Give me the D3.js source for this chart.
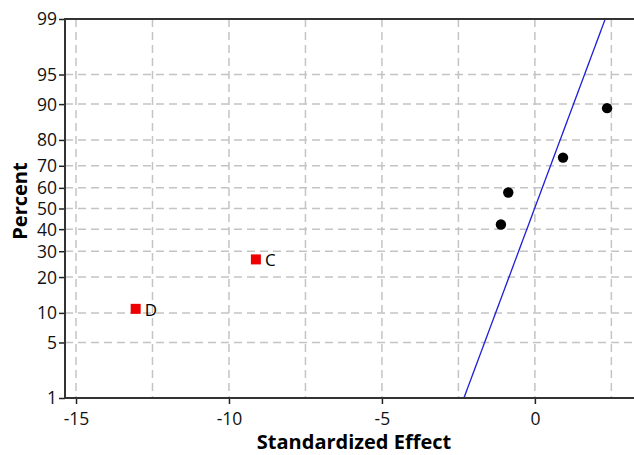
<!DOCTYPE html>
<html>
<head>
<meta charset="utf-8">
<script src="https://cdn.jsdelivr.net/npm/d3@7"></script>
<style>
  body { margin: 0; background: #fff; }
  svg text { font-family: "Open Sans", "DejaVu Sans", sans-serif; }
</style>
</head>
<body>
<div id="chart"></div>
<script>
// Effects that are significant (red squares, labelled)
const sigLabels = ["D", "C"];
const sigEffects = [-13.05, -9.12];
const sigPercents = [10.9, 26.6];

// Other effects (black dots)
const otherEffects = [-1.11, -0.87, 0.92, 2.36];
const otherPercents = [42.2, 57.8, 73.4, 89.1];

// Reference line ends
const lineEffects = [-2.32, 2.30];
const linePercents = [1, 99];

const xTicks = [-15, -10, -5, 0];
const xGrid = [-15, -12.5, -10, -7.5, -5, -2.5, 0, 2.5];
const yTicks = [1, 5, 10, 20, 30, 40, 50, 60, 70, 80, 90, 95, 99];

const width = 634, height = 455;
const plotLeft = 65, plotTop = 19, plotRight = 634, plotBottom = 398;

// inverse normal cdf (Acklam), used to place percents on the probability axis
function probit(p) {
    const a = [-39.6968302866538, 220.946098424521, -275.928510446969, 138.357751867269, -30.6647980661472, 2.50662827745924];
    const b = [-54.4760987982241, 161.585836858041, -155.698979859887, 66.8013118877197, -13.2806815528857];
    const c = [-0.00778489400243029, -0.322396458041136, -2.40075827716184, -2.54973253934373, 4.37466414146497, 2.93816398269878];
    const d = [0.00778469570904146, 0.32246712907004, 2.445134137143, 3.75440866190742];
    const pl = 0.02425;
    let q, r;
    if (p < pl) {
        q = Math.sqrt(-2 * Math.log(p));
        return (((((c[0]*q+c[1])*q+c[2])*q+c[3])*q+c[4])*q+c[5]) / ((((d[0]*q+d[1])*q+d[2])*q+d[3])*q+1);
    } else if (p <= 1 - pl) {
        q = p - 0.5; r = q * q;
        return (((((a[0]*r+a[1])*r+a[2])*r+a[3])*r+a[4])*r+a[5])*q / (((((b[0]*r+b[1])*r+b[2])*r+b[3])*r+b[4])*r+1);
    } else {
        q = Math.sqrt(-2 * Math.log(1 - p));
        return -(((((c[0]*q+c[1])*q+c[2])*q+c[3])*q+c[4])*q+c[5]) / ((((d[0]*q+d[1])*q+d[2])*q+d[3])*q+1);
    }
}

const svg = d3.select("#chart").append("svg")
    .attr("width", width)
    .attr("height", height);

const x = d3.scaleLinear().domain([-15.36, 3.24]).range([plotLeft, plotRight]);
const zScale = d3.scaleLinear().domain([probit(0.01), probit(0.99)]).range([plotBottom, plotTop]);
const y = pct => zScale(probit(pct / 100));

// grid
svg.append("g").selectAll("line.vg")
    .data(xGrid)
    .enter().append("line")
    .attr("x1", d => x(d)).attr("x2", d => x(d))
    .attr("y1", plotTop).attr("y2", plotBottom)
    .attr("stroke", "#c4c4c4").attr("stroke-width", 1.5)
    .attr("stroke-dasharray", "8,5");

svg.append("g").selectAll("line.hg")
    .data(yTicks.slice(1, -1))
    .enter().append("line")
    .attr("x1", plotLeft).attr("x2", plotRight)
    .attr("y1", d => y(d)).attr("y2", d => y(d))
    .attr("stroke", "#c4c4c4").attr("stroke-width", 1.5)
    .attr("stroke-dasharray", "8,5");

// reference line
svg.append("path")
    .datum(d3.zip(lineEffects, linePercents))
    .attr("fill", "none")
    .attr("stroke", "#1f1fd6")
    .attr("stroke-width", 1.3)
    .attr("d", d3.line().x(d => x(d[0])).y(d => y(d[1])));

// points
svg.append("g").selectAll("circle")
    .data(d3.zip(otherEffects, otherPercents))
    .enter().append("circle")
    .attr("cx", d => x(d[0])).attr("cy", d => y(d[1]))
    .attr("r", 5.2)
    .attr("fill", "#000");

const sig = svg.append("g").selectAll("g")
    .data(d3.zip(sigEffects, sigPercents, sigLabels))
    .enter().append("g")
    .attr("transform", d => `translate(${x(d[0])},${y(d[1])})`);

sig.append("rect")
    .attr("x", -5).attr("y", -5)
    .attr("width", 10).attr("height", 10)
    .attr("fill", "#ee0000");

sig.append("text")
    .attr("x", 9).attr("y", 7)
    .attr("font-size", 17)
    .text(d => d[2]);

// axes
const xAxis = d3.axisBottom(x).tickValues(xTicks).tickSize(6).tickFormat(d3.format("d"));
const gx = svg.append("g").attr("transform", `translate(0,${plotBottom})`).call(xAxis);
gx.select(".domain").remove();
gx.selectAll("line").attr("stroke", "#222").attr("stroke-width", 1.5);
gx.selectAll("text").attr("font-size", 17.5).attr("fill", "#111")
    .attr("y", 27).attr("dy", 0)
    .text(d => d < 0 ? "-" + Math.abs(d) : d);

const yAxis = d3.axisLeft(zScale).tickValues(yTicks.map(p => probit(p / 100))).tickSize(6)
    .tickFormat((d, i) => yTicks[i]);
const gy = svg.append("g").attr("transform", `translate(${plotLeft},0)`).call(yAxis);
gy.select(".domain").remove();
gy.selectAll("line").attr("stroke", "#222").attr("stroke-width", 1.5);
gy.selectAll("text").attr("font-size", 17.5).attr("fill", "#111").attr("x", -8).attr("dy", "0.34em");

// frame lines
svg.append("line").attr("x1", plotLeft).attr("x2", plotLeft).attr("y1", plotTop - 1).attr("y2", plotBottom + 1)
    .attr("stroke", "#333").attr("stroke-width", 2);
svg.append("line").attr("x1", plotLeft).attr("x2", plotRight).attr("y1", plotBottom).attr("y2", plotBottom)
    .attr("stroke", "#333").attr("stroke-width", 2);
svg.append("line").attr("x1", plotLeft).attr("x2", plotRight).attr("y1", plotTop).attr("y2", plotTop)
    .attr("stroke", "#333").attr("stroke-width", 2);

// titles
svg.append("text")
    .attr("x", 354).attr("y", 449)
    .attr("text-anchor", "middle")
    .attr("font-size", 20).attr("font-weight", "bold")
    .text("Standardized Effect");

svg.append("text")
    .attr("transform", "translate(27,201) rotate(-90)")
    .attr("text-anchor", "middle")
    .attr("font-size", 20).attr("font-weight", "bold")
    .text("Percent");
</script>
</body>
</html>
